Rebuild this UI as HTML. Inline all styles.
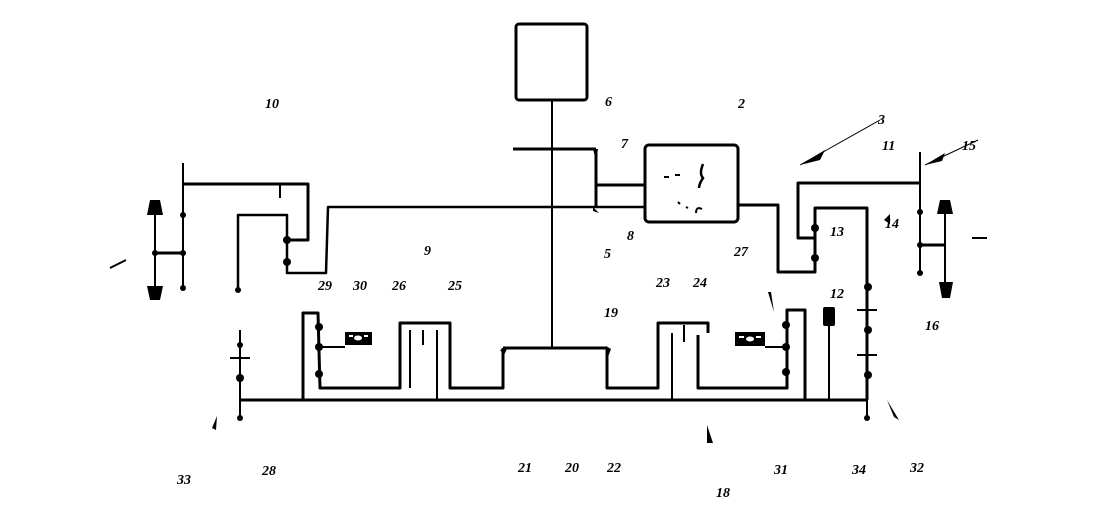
<!DOCTYPE html>
<html><head><style>
html,body{margin:0;padding:0;background:#fff;}
svg{display:block}
text{font-family:"Liberation Serif",serif;font-style:italic;font-weight:bold;font-size:14px;fill:#000}
</style></head><body>
<svg width="1096" height="531" viewBox="0 0 1096 531" xmlns="http://www.w3.org/2000/svg">
<g fill="none" stroke="#000" stroke-width="3" stroke-linejoin="round">
<rect x="516" y="24" width="71" height="76" rx="3"/>
<rect x="645" y="145" width="93" height="77" rx="4"/>
<line x1="513" y1="149" x2="596" y2="149"/>
<line x1="596" y1="149" x2="596" y2="206"/>
<line x1="596" y1="185" x2="645" y2="185"/>
<polyline points="645,207 328,207 326,273 287,273 287,215 238,215 238,290" stroke-width="2.5"/>
<polyline points="183,184 308,184 308,240 287,240"/>
<polyline points="738,205 778,205 778,272 815,272 815,208 867,208 867,400"/>
<polyline points="920,183 798,183 798,238 815,238"/>
<line x1="240" y1="400" x2="867" y2="400"/>
<polyline points="503,348 607,348"/>
<polyline points="503,348 503,388 450,388 450,323 400,323 400,388 320,388 318,313 303,313 303,400"/>
<polyline points="607,348 607,388 658,388 658,323 708,323 708,333"/>
<polyline points="698,335 698,388 787,388 787,310 805,310 805,400"/>
<line x1="155" y1="253" x2="183" y2="253"/>
<line x1="920" y1="245" x2="945" y2="245"/>
</g>
<g fill="none" stroke="#000" stroke-width="2">
<line x1="552" y1="100" x2="552" y2="348"/>
<line x1="183" y1="163" x2="183" y2="290"/>
<line x1="155" y1="210" x2="155" y2="292"/>
<line x1="920" y1="152" x2="920" y2="273"/>
<line x1="945" y1="207" x2="945" y2="287"/>
<line x1="240" y1="330" x2="240" y2="420"/>
<line x1="867" y1="400" x2="867" y2="420"/>
<line x1="410" y1="330" x2="410" y2="388"/>
<line x1="437" y1="330" x2="437" y2="400"/>
<line x1="423" y1="330" x2="423" y2="345"/>
<line x1="672" y1="333" x2="672" y2="400"/>
<line x1="684" y1="325" x2="684" y2="342"/>
<line x1="280" y1="184" x2="280" y2="198"/>
<line x1="829" y1="325" x2="829" y2="400"/>
<line x1="318" y1="347" x2="345" y2="347"/>
<line x1="765" y1="347" x2="787" y2="347"/>
<line x1="230" y1="358" x2="250" y2="358"/>
<line x1="857" y1="310" x2="877" y2="310"/>
<line x1="857" y1="355" x2="877" y2="355"/>
<line x1="110" y1="268" x2="126" y2="260"/>
<line x1="972" y1="238" x2="987" y2="238"/>
<line x1="800" y1="165" x2="880" y2="120" stroke-width="1"/>
<line x1="925" y1="165" x2="978" y2="140" stroke-width="1"/>
<line x1="664" y1="177" x2="669" y2="177"/>
<line x1="675" y1="175" x2="680" y2="175"/>
<path d="M703 164 q-4 10 0 14 q-4 6 -4 10" stroke-width="2.5"/>
<path d="M702 209 q-6 -3 -6 4" stroke-width="2"/>
<line x1="678" y1="202" x2="680" y2="204"/>
<line x1="686" y1="207" x2="688" y2="208"/>
</g>
<g fill="#000">
<rect x="345" y="332" width="27" height="13"/>
<rect x="735" y="332" width="30" height="14"/>
<rect x="823" y="307" width="12" height="19" rx="2"/>
<circle cx="183" cy="215" r="3"/><circle cx="183" cy="253" r="3"/><circle cx="183" cy="288" r="3"/>
<circle cx="155" cy="253" r="3"/><circle cx="238" cy="290" r="3"/>
<circle cx="287" cy="240" r="4"/><circle cx="287" cy="262" r="4"/>
<circle cx="319" cy="327" r="4"/><circle cx="319" cy="347" r="4"/><circle cx="319" cy="374" r="4"/>
<circle cx="786" cy="325" r="4"/><circle cx="786" cy="347" r="4"/><circle cx="786" cy="372" r="4"/>
<circle cx="815" cy="228" r="4"/><circle cx="815" cy="258" r="4"/>
<circle cx="868" cy="287" r="4"/><circle cx="868" cy="330" r="4"/><circle cx="868" cy="375" r="4"/>
<circle cx="920" cy="212" r="3"/><circle cx="920" cy="245" r="3"/><circle cx="920" cy="273" r="3"/>
<circle cx="240" cy="345" r="3"/><circle cx="240" cy="378" r="4"/><circle cx="240" cy="418" r="3"/>
<circle cx="867" cy="418" r="3"/>
<path d="M150 200 h10 l3 15 h-16z"/><path d="M147 286 h16 l-3 14 h-10z"/>
<path d="M940 200 h10 l3 14 h-16z"/><path d="M939 282 h14 l-3 16 h-8z"/>
<path d="M800 165 l25 -15 l-5 10z"/><path d="M925 165 l20 -12 l-3 8z"/>
<path d="M593 149 l5 0 l-2 12z"/><path d="M593 207 l6 6 l-6 -2z"/>
<path d="M500 350 l8 -3 l-4 8z"/><path d="M606 346 l5 3 l-3 8z"/>
<path d="M707 425 l6 18 l-6 0z"/><path d="M212 428 l5 -12 l-1 14z"/>
<path d="M768 292 l3 0 l3 20z"/><path d="M887 400 l12 20 l-5 -3z"/>
<path d="M1032 135 l14 -6 l-6 9z" transform="translate(-174 0)" opacity="0"/>
<path d="M884 220 l6 -6 l0 10z"/>
</g>
<g fill="#fff">
<ellipse cx="358" cy="338" rx="4" ry="2.5"/><rect x="349" y="335" width="4" height="2"/><rect x="364" y="335" width="4" height="2"/>
<ellipse cx="750" cy="339" rx="4" ry="2.5"/><rect x="739" y="336" width="5" height="2"/><rect x="756" y="336" width="5" height="2"/>
</g>
<text x="265" y="108">10</text><text x="605" y="106">6</text><text x="738" y="108">2</text>
<text x="878" y="124">3</text><text x="882" y="150">11</text><text x="962" y="150">15</text>
<text x="621" y="148">7</text><text x="627" y="240">8</text><text x="424" y="255">9</text>
<text x="604" y="258">5</text><text x="734" y="256">27</text><text x="830" y="236">13</text>
<text x="885" y="228">14</text><text x="318" y="290">29</text><text x="353" y="290">30</text>
<text x="392" y="290">26</text><text x="448" y="290">25</text><text x="656" y="287">23</text>
<text x="693" y="287">24</text><text x="604" y="317">19</text><text x="830" y="298">12</text>
<text x="925" y="330">16</text><text x="177" y="484">33</text><text x="262" y="475">28</text>
<text x="518" y="472">21</text><text x="565" y="472">20</text><text x="607" y="472">22</text>
<text x="774" y="474">31</text><text x="852" y="474">34</text><text x="910" y="472">32</text>
<text x="716" y="497">18</text>
</svg>
</body></html>
